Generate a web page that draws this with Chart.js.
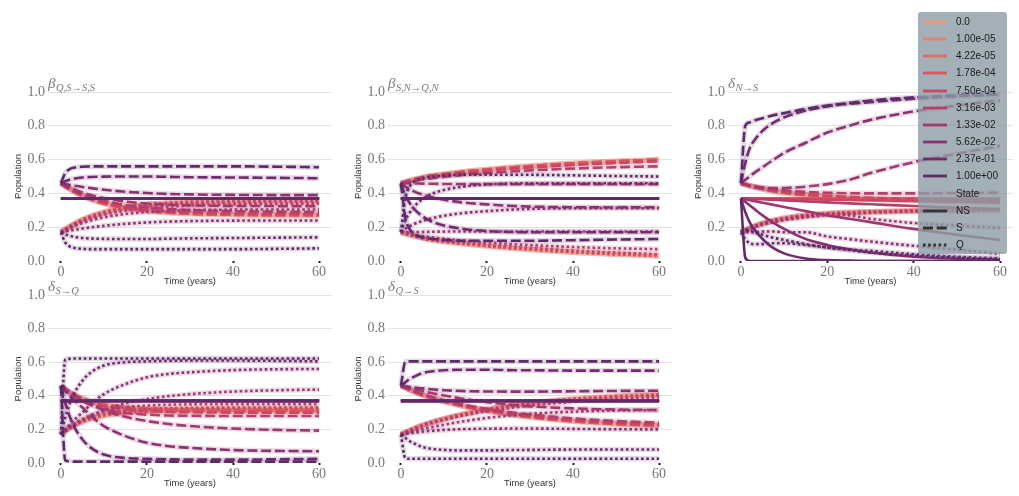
<!DOCTYPE html>
<html><head><meta charset="utf-8">
<script src="https://cdn.jsdelivr.net/npm/chart.js@4.4.0/dist/chart.umd.min.js"></script>
<style>
html,body{margin:0;padding:0;background:#fff;width:1019px;height:496px;overflow:hidden;position:relative;}
canvas{position:absolute;}
#legend{position:absolute;left:918px;top:12px;width:89px;height:242px;background:rgba(141,156,166,0.8);border-radius:3px;font-family:"Liberation Sans",Arial,sans-serif;font-size:10px;color:#1a1a1a;z-index:10;}
.lrow{position:absolute;left:0;width:89px;height:14px;}
.lrow svg{position:absolute;left:5px;top:4px;}
.lrow span{position:absolute;left:38px;top:1px;line-height:12px;white-space:nowrap;}
</style></head><body>
<div id="legend"></div>
<script>
// ---------------- DATA ----------------
const T = [0,1,2,3,5,7,10,15,20,25,30,40,50,60];
const hueLabels = ['0.0','1.00e-05','4.22e-05','1.78e-04','7.50e-04','3.16e-03','1.33e-02','5.62e-02','2.37e-01','1.00e+00'];
const hueColors = ['#eb9a72','#e78367','#e36a5d','#da585f','#cb4763','#b73e6a','#a2386e','#8c3271','#722c6e','#5f2a69'];
const stateLabels = ['NS','S','Q'];

// Panel 1: beta_{Q,S->S,S}
const p1_NS = [
 [.37,.37,.37,.37,.37,.37,.37,.37,.37,.37,.37,.37,.37,.37],
 [.37,.37,.37,.37,.37,.37,.37,.37,.37,.37,.37,.37,.37,.37],
 [.37,.37,.37,.37,.37,.37,.37,.37,.37,.37,.37,.37,.37,.37],
 [.37,.37,.37,.37,.37,.37,.37,.37,.37,.37,.37,.37,.37,.37],
 [.37,.37,.37,.37,.37,.37,.37,.37,.37,.37,.37,.37,.37,.37],
 [.37,.37,.37,.37,.37,.37,.37,.37,.37,.37,.37,.37,.37,.37],
 [.37,.37,.37,.37,.37,.37,.37,.37,.37,.37,.37,.37,.37,.37],
 [.37,.37,.37,.37,.37,.37,.37,.37,.37,.37,.37,.37,.37,.37],
 [.37,.37,.37,.37,.37,.37,.37,.37,.37,.37,.37,.37,.37,.37],
 [.37,.37,.37,.37,.37,.37,.37,.37,.37,.37,.37,.37,.37,.37]];
const p1_S = [
 [.46,.442,.426,.411,.385,.364,.340,.312,.296,.286,.279,.273,.271,.27],
 [.46,.442,.426,.411,.385,.364,.340,.312,.296,.286,.279,.273,.271,.27],
 [.46,.442,.426,.411,.385,.364,.340,.312,.296,.286,.279,.273,.271,.27],
 [.46,.442,.426,.412,.386,.365,.341,.313,.297,.287,.281,.275,.273,.272],
 [.46,.443,.428,.413,.388,.368,.345,.318,.303,.293,.287,.281,.278,.277],
 [.46,.445,.431,.418,.395,.377,.356,.332,.318,.308,.302,.295,.292,.29],
 [.46,.447,.436,.425,.406,.39,.372,.352,.34,.333,.329,.326,.325,.325],
 [.46,.455,.45,.446,.438,.431,.422,.41,.402,.397,.394,.391,.39,.39],
 [.46,.472,.481,.487,.494,.497,.499,.5,.5,.498,.496,.494,.492,.49],
 [.46,.52,.543,.552,.558,.56,.56,.56,.56,.56,.56,.56,.558,.555]];
const p1_Q = [
 [.17,.188,.204,.219,.245,.266,.29,.318,.334,.344,.351,.357,.359,.36],
 [.17,.188,.204,.219,.245,.266,.29,.318,.334,.344,.351,.357,.359,.36],
 [.17,.188,.204,.219,.245,.266,.29,.318,.334,.344,.351,.357,.359,.36],
 [.17,.188,.204,.218,.244,.265,.289,.317,.333,.343,.349,.355,.357,.358],
 [.17,.187,.202,.217,.242,.262,.285,.312,.327,.337,.343,.349,.352,.353],
 [.17,.185,.199,.212,.235,.253,.274,.298,.312,.322,.328,.335,.338,.34],
 [.17,.183,.194,.205,.224,.24,.258,.278,.29,.297,.301,.304,.305,.305],
 [.17,.175,.18,.184,.192,.199,.208,.22,.228,.233,.236,.239,.24,.24],
 [.17,.158,.149,.143,.136,.133,.131,.13,.13,.132,.134,.136,.138,.14],
 [.17,.11,.087,.078,.072,.07,.07,.07,.07,.07,.07,.07,.072,.075]];

// Panel 2: beta_{S,N->Q,N}
const p2_NS = [
 [.37,.37,.37,.37,.37,.37,.37,.37,.37,.37,.37,.37,.37,.37],
 [.37,.37,.37,.37,.37,.37,.37,.37,.37,.37,.37,.37,.37,.37],
 [.37,.37,.37,.37,.37,.37,.37,.37,.37,.37,.37,.37,.37,.37],
 [.37,.37,.37,.37,.37,.37,.37,.37,.37,.37,.37,.37,.37,.37],
 [.37,.37,.37,.37,.37,.37,.37,.37,.37,.37,.37,.37,.37,.37],
 [.37,.37,.37,.37,.37,.37,.37,.37,.37,.37,.37,.37,.37,.37],
 [.37,.37,.37,.37,.37,.37,.37,.37,.37,.37,.37,.37,.37,.37],
 [.37,.37,.37,.37,.37,.37,.37,.37,.37,.37,.37,.37,.37,.37],
 [.37,.37,.37,.37,.37,.37,.37,.37,.37,.37,.37,.37,.37,.37],
 [.37,.37,.37,.37,.37,.37,.37,.37,.37,.37,.37,.37,.37,.37]];
const p2_S = [
 [.46,.468,.476,.483,.495,.505,.515,.53,.542,.553,.562,.578,.59,.6],
 [.46,.468,.476,.483,.495,.505,.515,.53,.542,.553,.562,.578,.59,.6],
 [.46,.468,.476,.483,.495,.505,.515,.53,.542,.553,.562,.578,.59,.6],
 [.46,.468,.476,.483,.495,.505,.515,.53,.542,.553,.562,.578,.59,.6],
 [.46,.467,.474,.48,.491,.5,.51,.524,.535,.545,.553,.568,.58,.59],
 [.46,.465,.47,.474,.482,.489,.498,.51,.52,.529,.536,.547,.555,.56],
 [.46,.46,.46,.459,.458,.457,.456,.455,.455,.455,.455,.455,.455,.455],
 [.46,.44,.425,.412,.393,.378,.362,.345,.335,.327,.322,.318,.317,.318],
 [.46,.39,.345,.31,.265,.235,.21,.188,.177,.172,.17,.17,.17,.17],
 [.46,.26,.19,.16,.14,.132,.125,.12,.12,.12,.12,.123,.127,.13]];
const p2_Q = [
 [.17,.162,.154,.147,.135,.125,.115,.1,.088,.077,.068,.052,.04,.03],
 [.17,.162,.154,.147,.135,.125,.115,.1,.088,.077,.068,.052,.04,.03],
 [.17,.162,.154,.147,.135,.125,.115,.1,.088,.077,.068,.052,.04,.03],
 [.17,.162,.154,.147,.135,.125,.115,.1,.088,.077,.068,.052,.04,.03],
 [.17,.163,.156,.15,.139,.13,.12,.106,.095,.085,.077,.062,.05,.04],
 [.17,.165,.16,.156,.148,.141,.132,.12,.11,.101,.094,.083,.075,.07],
 [.17,.17,.17,.171,.172,.173,.174,.175,.175,.175,.175,.175,.175,.175],
 [.17,.19,.205,.218,.237,.252,.268,.285,.295,.303,.308,.312,.313,.312],
 [.17,.24,.285,.32,.365,.395,.42,.442,.453,.458,.46,.46,.46,.46],
 [.17,.37,.44,.47,.49,.498,.505,.51,.51,.51,.51,.507,.503,.5]];

// Panel 3: delta_{N->S}
const p3_NS = [
 [.37,.37,.37,.37,.37,.37,.37,.37,.37,.37,.37,.37,.37,.37],
 [.37,.37,.37,.37,.37,.37,.37,.37,.37,.37,.37,.37,.37,.37],
 [.37,.37,.37,.37,.37,.37,.37,.37,.37,.37,.37,.37,.37,.37],
 [.37,.37,.37,.37,.37,.37,.37,.369,.369,.368,.368,.367,.366,.365],
 [.37,.37,.37,.369,.369,.368,.367,.365,.363,.361,.359,.355,.352,.348],
 [.37,.369,.368,.367,.365,.363,.359,.353,.347,.341,.336,.325,.315,.305],
 [.37,.365,.36,.355,.345,.335,.32,.295,.27,.25,.23,.19,.155,.125],
 [.37,.35,.33,.31,.27,.235,.19,.13,.095,.07,.05,.025,.013,.008],
 [.37,.29,.23,.19,.13,.085,.045,.015,.005,.002,0,0,0,0],
 [.37,.02,0,0,0,0,0,0,0,0,0,0,0,0]];
const p3_S = [
 [.46,.452,.445,.438,.426,.416,.404,.39,.38,.372,.366,.358,.352,.348],
 [.46,.452,.445,.438,.426,.416,.404,.39,.38,.372,.366,.358,.352,.348],
 [.46,.452,.445,.438,.426,.416,.404,.39,.38,.372,.366,.358,.352,.348],
 [.46,.452,.445,.438,.426,.416,.404,.39,.381,.373,.367,.36,.354,.35],
 [.46,.452,.445,.439,.428,.419,.408,.395,.386,.379,.374,.368,.364,.362],
 [.46,.453,.447,.442,.433,.426,.418,.409,.404,.401,.4,.4,.402,.405],
 [.46,.452,.445,.44,.434,.431,.432,.44,.455,.48,.52,.585,.635,.68],
 [.46,.48,.5,.52,.555,.59,.64,.7,.76,.8,.835,.885,.92,.95],
 [.46,.58,.665,.71,.77,.81,.85,.89,.915,.93,.94,.96,.975,.985],
 [.46,.8,.82,.83,.845,.86,.875,.9,.92,.935,.95,.968,.98,.99]];
const p3_Q = [
 [.17,.182,.194,.205,.224,.238,.255,.272,.282,.288,.292,.296,.298,.3],
 [.17,.182,.194,.205,.224,.238,.255,.272,.282,.288,.292,.296,.298,.3],
 [.17,.182,.194,.205,.224,.238,.255,.272,.282,.288,.292,.296,.298,.3],
 [.17,.182,.194,.205,.224,.238,.254,.271,.281,.288,.292,.297,.3,.302],
 [.17,.181,.192,.202,.219,.233,.249,.267,.278,.286,.291,.298,.302,.306],
 [.17,.18,.19,.199,.214,.226,.241,.258,.27,.278,.285,.294,.3,.305],
 [.17,.183,.195,.205,.221,.234,.248,.265,.275,.27,.25,.225,.21,.195],
 [.17,.17,.17,.17,.175,.175,.17,.17,.145,.13,.115,.09,.067,.042],
 [.17,.13,.105,.1,.1,.105,.105,.095,.08,.068,.06,.04,.025,.015],
 [.17,.18,.18,.17,.155,.14,.125,.1,.08,.065,.05,.032,.02,.01]];

// Panel 4: delta_{S->Q}
const p4_NS = [
 [.37,.37,.37,.37,.37,.37,.37,.37,.37,.37,.37,.37,.37,.37],
 [.37,.37,.37,.37,.37,.37,.37,.37,.37,.37,.37,.37,.37,.37],
 [.37,.37,.37,.37,.37,.37,.37,.37,.37,.37,.37,.37,.37,.37],
 [.37,.37,.37,.37,.37,.37,.37,.37,.37,.37,.37,.37,.37,.37],
 [.37,.37,.37,.37,.37,.37,.37,.37,.37,.37,.37,.37,.37,.37],
 [.37,.37,.37,.37,.37,.37,.37,.37,.37,.37,.37,.37,.37,.37],
 [.37,.37,.37,.37,.37,.37,.37,.37,.37,.37,.37,.37,.37,.37],
 [.37,.37,.37,.37,.37,.37,.37,.37,.37,.37,.37,.37,.37,.37],
 [.37,.37,.37,.37,.37,.37,.37,.37,.37,.37,.37,.37,.37,.37],
 [.37,.37,.37,.37,.37,.37,.37,.37,.37,.37,.37,.37,.37,.37]];
const p4_S = [
 [.46,.441,.424,.409,.385,.368,.349,.332,.324,.319,.317,.315,.315,.315],
 [.46,.441,.424,.409,.385,.368,.349,.332,.324,.319,.317,.315,.315,.315],
 [.46,.441,.424,.409,.385,.368,.349,.332,.324,.319,.317,.315,.315,.315],
 [.46,.44,.423,.407,.383,.365,.346,.328,.319,.314,.312,.31,.31,.31],
 [.46,.439,.42,.404,.378,.359,.338,.318,.309,.304,.302,.3,.3,.3],
 [.46,.436,.415,.397,.368,.345,.321,.298,.288,.283,.281,.28,.28,.28],
 [.46,.44,.42,.405,.375,.35,.315,.275,.25,.232,.22,.205,.197,.193],
 [.46,.43,.4,.375,.33,.28,.22,.16,.12,.1,.09,.077,.072,.07],
 [.46,.36,.28,.22,.14,.09,.05,.03,.025,.022,.02,.02,.022,.025],
 [.46,.015,.01,.008,.008,.008,.008,.008,.008,.008,.008,.008,.008,.008]];
const p4_Q = [
 [.17,.189,.206,.221,.245,.262,.281,.298,.306,.311,.313,.315,.315,.315],
 [.17,.189,.206,.221,.245,.262,.281,.298,.306,.311,.313,.315,.315,.315],
 [.17,.189,.206,.221,.245,.262,.281,.298,.306,.311,.313,.315,.315,.315],
 [.17,.19,.207,.223,.247,.265,.284,.302,.311,.316,.318,.32,.32,.32],
 [.17,.191,.21,.226,.252,.271,.292,.312,.321,.326,.328,.33,.33,.33],
 [.17,.194,.215,.233,.262,.285,.309,.332,.342,.347,.349,.35,.35,.35],
 [.17,.19,.21,.225,.255,.28,.315,.355,.38,.398,.41,.425,.433,.437],
 [.17,.2,.23,.255,.3,.35,.41,.47,.51,.53,.54,.553,.558,.56],
 [.17,.27,.35,.41,.49,.54,.58,.6,.605,.608,.61,.61,.608,.605],
 [.17,.615,.62,.622,.622,.622,.622,.622,.622,.622,.622,.622,.622,.622]];

// Panel 5: delta_{Q->S}
const p5_NS = [
 [.37,.37,.37,.37,.37,.37,.37,.37,.37,.37,.37,.37,.37,.37],
 [.37,.37,.37,.37,.37,.37,.37,.37,.37,.37,.37,.37,.37,.37],
 [.37,.37,.37,.37,.37,.37,.37,.37,.37,.37,.37,.37,.37,.37],
 [.37,.37,.37,.37,.37,.37,.37,.37,.37,.37,.37,.37,.37,.37],
 [.37,.37,.37,.37,.37,.37,.37,.37,.37,.37,.37,.37,.37,.37],
 [.37,.37,.37,.37,.37,.37,.37,.37,.37,.37,.37,.37,.37,.37],
 [.37,.37,.37,.37,.37,.37,.37,.37,.37,.37,.37,.37,.37,.37],
 [.37,.37,.37,.37,.37,.37,.37,.37,.37,.37,.37,.37,.37,.37],
 [.37,.37,.37,.37,.37,.37,.37,.37,.37,.37,.37,.37,.37,.37],
 [.37,.37,.37,.37,.37,.37,.37,.37,.37,.37,.37,.37,.37,.37]];
const p5_S = [
 [.46,.448,.436,.425,.405,.388,.366,.335,.31,.29,.273,.248,.232,.222],
 [.46,.448,.436,.425,.405,.388,.366,.335,.31,.29,.273,.248,.232,.222],
 [.46,.448,.436,.425,.405,.388,.366,.335,.31,.29,.273,.248,.232,.222],
 [.46,.448,.436,.425,.405,.388,.366,.336,.311,.291,.275,.25,.235,.225],
 [.46,.448,.437,.426,.406,.39,.368,.338,.314,.295,.278,.254,.238,.228],
 [.46,.449,.438,.428,.409,.394,.374,.345,.322,.304,.289,.266,.25,.24],
 [.46,.453,.446,.44,.428,.417,.402,.38,.362,.348,.337,.325,.318,.315],
 [.46,.457,.453,.45,.444,.439,.433,.428,.426,.425,.425,.427,.429,.43],
 [.46,.48,.5,.513,.535,.545,.552,.555,.555,.553,.552,.55,.55,.55],
 [.46,.6,.605,.605,.605,.605,.605,.605,.605,.605,.605,.605,.605,.605]];
const p5_Q = [
 [.17,.182,.194,.205,.225,.242,.264,.295,.32,.34,.357,.382,.398,.408],
 [.17,.182,.194,.205,.225,.242,.264,.295,.32,.34,.357,.382,.398,.408],
 [.17,.182,.194,.205,.225,.242,.264,.295,.32,.34,.357,.382,.398,.408],
 [.17,.182,.194,.205,.225,.242,.264,.294,.319,.339,.355,.38,.395,.405],
 [.17,.182,.193,.204,.224,.24,.262,.292,.316,.335,.352,.376,.392,.402],
 [.17,.181,.192,.202,.221,.236,.256,.285,.308,.326,.341,.364,.38,.39],
 [.17,.177,.184,.19,.202,.213,.228,.25,.268,.282,.293,.305,.312,.315],
 [.17,.173,.177,.18,.186,.191,.197,.202,.204,.205,.205,.203,.201,.2],
 [.17,.15,.13,.117,.095,.085,.078,.075,.075,.077,.078,.08,.08,.08],
 [.17,.03,.025,.025,.025,.025,.025,.025,.025,.025,.025,.025,.025,.025]];

const xTicks = [0,20,40,60];

// ---------------- RENDER ----------------
const panels = [
  {sym:'β', sub:'Q,S→S,S', NS:p1_NS, S:p1_S, Q:p1_Q, col:0, row:0},
  {sym:'β', sub:'S,N→Q,N', NS:p2_NS, S:p2_S, Q:p2_Q, col:1, row:0},
  {sym:'δ', sub:'N→S',     NS:p3_NS, S:p3_S, Q:p3_Q, col:2, row:0},
  {sym:'δ', sub:'S→Q',     NS:p4_NS, S:p4_S, Q:p4_Q, col:0, row:1},
  {sym:'δ', sub:'Q→S',     NS:p5_NS, S:p5_S, Q:p5_Q, col:1, row:1}
];
const colX = [[48,332],[388,672],[728,1013]];
const rowY = [[92,261],[295,463]];
const dashes = {NS:[], S:[10,3.75], Q:[2.6,2.6]};

function rgba(hex,a){const n=parseInt(hex.slice(1),16);return `rgba(${n>>16},${(n>>8)&255},${n&255},${a})`;}

const titlePlugin = {
  id:'ptitle',
  afterDraw(chart,args,opts){
    const ctx=chart.ctx, a=chart.chartArea;
    ctx.save();
    ctx.fillStyle='#7a7a7a';
    ctx.textBaseline='alphabetic';
    ctx.font='italic 15px "Liberation Serif", serif';
    ctx.fillText(opts.sym, a.left, a.top-4);
    const w=ctx.measureText(opts.sym).width;
    ctx.font='italic 10.5px "Liberation Serif", serif';
    ctx.fillText(opts.sub, a.left+w+0.5, a.top-1);
    ctx.restore();
  }
};

const serif = '"Liberation Serif", serif';
const sans = '"Liberation Sans", Arial, sans-serif';

panels.forEach((p)=>{
  const [l,r]=colX[p.col], [t,b]=rowY[p.row];
  const cv=document.createElement('canvas');
  cv.width=(r-l)+52; cv.height=(b-t)+62;
  cv.style.left=(l-48)+'px'; cv.style.top=(t-32)+'px';
  document.body.appendChild(cv);
  const ds=[]; const total=10*5; let k=0;
  for(let i=0;i<10;i++){
    for(const s of stateLabels){
      const rows=p[s];
      const data=T.map((tt,j)=>({x:tt,y:rows[i][j]}));
      const c=hueColors[i];
      if(s!=='NS'){
        ds.push({data, borderColor:rgba(c,0.17), borderWidth:5.5, borderDash:[], pointRadius:0, fill:false,
          cubicInterpolationMode:'monotone', order:total-(k++)});
      }
      ds.push({data, borderColor:c, borderWidth:2.6, borderDash:dashes[s], borderCapStyle:'butt',
        pointRadius:0, fill:false, cubicInterpolationMode:'monotone', order:total-(k++)});
    }
  }
  new Chart(cv,{
    type:'line',
    data:{datasets:ds},
    plugins:[titlePlugin],
    options:{
      responsive:false, animation:false, devicePixelRatio:1,
      layout:{padding:{left:0,right:4,top:32,bottom:0}},
      plugins:{legend:{display:false}, tooltip:{enabled:false}, ptitle:{sym:p.sym, sub:p.sub}},
      scales:{
        x:{type:'linear', min:-3, max:63,
          afterBuildTicks:s=>{s.ticks=xTicks.map(v=>({value:v}));},
          afterFit:s=>{s.height=30;},
          grid:{display:true, drawOnChartArea:false, drawTicks:true, tickLength:2, tickWidth:2, tickColor:'#1a1a1a'},
          border:{display:false},
          ticks:{font:{family:serif,size:14}, color:'#777', padding:1, maxRotation:0, autoSkip:false, callback:v=>String(v)},
          title:{display:true, text:'Time (years)', font:{family:sans,size:9.3}, color:'#333', padding:{top:0,bottom:4}}
        },
        y:{min:0, max:1,
          afterFit:s=>{s.width=48;},
          ticks:{stepSize:0.2, font:{family:serif,size:14}, color:'#777', padding:3, callback:v=>Number(v).toFixed(1)},
          grid:{color:c=>(c.tick && c.tick.value===0)?'rgba(0,0,0,0)':'#e2e2e2', lineWidth:1, drawTicks:false},
          border:{display:false},
          title:{display:true, text:'Population', font:{family:sans,size:9.5}, color:'#333', padding:{top:13,bottom:0}}
        }
      }
    }
  });
});

// legend
const leg=document.getElementById('legend');
const entries=[];
hueLabels.forEach((lab,i)=>entries.push({lab, color:hueColors[i], dash:''}));
entries.push({lab:'State', color:null});
entries.push({lab:'NS', color:'#333', dash:''});
entries.push({lab:'S', color:'#333', dash:'10,3.75'});
entries.push({lab:'Q', color:'#333', dash:'2.6,2.6'});
entries.forEach((e,i)=>{
  const d=document.createElement('div'); d.className='lrow';
  d.style.top=(10+i*17.15-7)+'px';
  let svg='';
  if(e.color){
    svg=`<svg width="24" height="6"><line x1="0" y1="3" x2="24" y2="3" stroke="${e.color}" stroke-width="2.8" ${e.dash?`stroke-dasharray="${e.dash}"`:''}/></svg>`;
  }
  d.innerHTML=svg+`<span>${e.lab}</span>`;
  leg.appendChild(d);
});
</script>
</body></html>
